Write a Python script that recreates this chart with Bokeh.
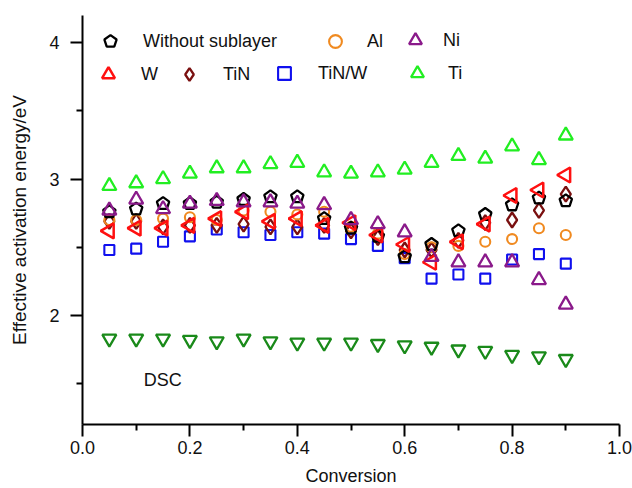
import numpy as np
from bokeh.plotting import figure
from bokeh.models import (FixedTicker, PrintfTickFormatter, Legend, LegendItem,
                          Label, Range1d, ColumnDataSource)
from bokeh.embed import file_html
from bokeh.resources import INLINE

conversion = [0.05, 0.10, 0.15, 0.20, 0.25, 0.30, 0.35, 0.40, 0.45,
              0.50, 0.55, 0.60, 0.65, 0.70, 0.75, 0.80, 0.85, 0.90]
without_sublayer = [2.76, 2.78, 2.82, 2.82, 2.83, 2.85, 2.87, 2.87, 2.71,
                    2.64, 2.58, 2.43, 2.52, 2.62, 2.74, 2.81, 2.86, 2.84]
al = [2.70, 2.70, 2.71, 2.72, 2.70, 2.77, 2.76, 2.74, 2.76,
      2.65, 2.60, 2.45, 2.50, 2.51, 2.54, 2.56, 2.64, 2.59]
ni = [2.77, 2.85, 2.78, 2.82, 2.84, 2.83, 2.83, 2.82, 2.81,
      2.70, 2.67, 2.61, 2.43, 2.39, 2.39, 2.39, 2.26, 2.08]
w = [2.62, 2.64, 2.64, 2.66, 2.71, 2.76, 2.69, 2.71, 2.66,
     2.68, 2.59, 2.52, 2.39, 2.54, 2.67, 2.88, 2.92, 3.03]
tin = [2.69, 2.69, 2.65, 2.66, 2.66, 2.67, 2.65, 2.65, 2.66,
       2.62, 2.57, 2.48, 2.48, 2.55, 2.68, 2.70, 2.77, 2.89]
tin_w = [2.48, 2.49, 2.54, 2.58, 2.63, 2.61, 2.59, 2.61, 2.60,
         2.56, 2.51, 2.42, 2.27, 2.30, 2.27, 2.41, 2.45, 2.38]
ti = [2.95, 2.97, 3.00, 3.04, 3.08, 3.08, 3.11, 3.12, 3.05,
      3.04, 3.05, 3.07, 3.12, 3.17, 3.15, 3.24, 3.14, 3.32]
dsc = [1.83, 1.83, 1.83, 1.82, 1.81, 1.83, 1.81, 1.80, 1.80,
       1.80, 1.79, 1.78, 1.77, 1.75, 1.74, 1.71, 1.70, 1.68]

x_ticks = [0.0, 0.2, 0.4, 0.6, 0.8, 1.0]
x_minor = [0.1, 0.3, 0.5, 0.7, 0.9]
y_ticks = [2, 3, 4]
y_minor = [1.5, 2.5, 3.5]

FONT = "Liberation Sans"
TXT = "#111111"

p = figure(width=632, height=488, output_backend="svg", toolbar_location=None,
           x_range=Range1d(0, 1.0), y_range=Range1d(1.2, 4.2),
           min_border_left=82, min_border_right=13, min_border_top=15,
           min_border_bottom=63)
p.outline_line_color = None
p.xgrid.visible = False
p.ygrid.visible = False

src = ColumnDataSource(dict(x=conversion, ws=without_sublayer, al=al, ni=ni,
                            w=w, tin=tin, tinw=tin_w, ti=ti, dsc=dsc))

r_dsc = p.scatter("x", "dsc", source=src, marker="inverted_triangle", size=14,
                  fill_color=None, line_color="#1a8a1a", line_width=2.3)
r_ti = p.scatter("x", "ti", source=src, marker="triangle", size=14,
                 fill_color=None, line_color="#22ee22", line_width=2.3)
r_tinw = p.scatter("x", "tinw", source=src, marker="square", size=10,
                   fill_color=None, line_color="#1010ee", line_width=2.1)
r_tin = p.scatter("x", "tin", source=src, marker="diamond", size=15,
                  fill_color=None, line_color="#7a1010", line_width=2.3)
r_al = p.scatter("x", "al", source=src, marker="circle", size=10,
                 fill_color=None, line_color="#f08a20", line_width=2.1)
r_ws = p.ngon("x", "ws", source=src, n=5, radius=6.5, radius_units="screen",
              fill_color=None, line_color="black", line_width=2.3)
r_w = p.scatter("x", "w", source=src, marker="triangle", size=15, angle=np.pi / 2,
                fill_color=None, line_color="#ff1010", line_width=2.5)
r_ni = p.scatter("x", "ni", source=src, marker="triangle", size=14,
                 fill_color=None, line_color="#8a1a8a", line_width=2.3)

for ax in (p.xaxis[0], p.yaxis[0]):
    ax.axis_line_color = "black"
    ax.axis_line_width = 2
    ax.major_tick_line_width = 2
    ax.minor_tick_line_width = 2
    ax.major_tick_in = 0
    ax.minor_tick_in = 0
    ax.major_tick_out = 12
    ax.minor_tick_out = 6
    ax.major_label_text_font = FONT
    ax.major_label_text_font_size = "18px"
    ax.major_label_text_color = TXT
    ax.axis_label_text_font = FONT
    ax.axis_label_text_font_style = "normal"
    ax.axis_label_text_color = TXT

p.xaxis.axis_label_text_font_size = "18px"
p.yaxis.axis_label_text_font_size = "19px"
p.xaxis.ticker = FixedTicker(ticks=x_ticks, minor_ticks=x_minor)
p.yaxis.ticker = FixedTicker(ticks=y_ticks, minor_ticks=y_minor)
p.xaxis.formatter = PrintfTickFormatter(format="%.1f")
p.yaxis.formatter = PrintfTickFormatter(format="%d")
p.xaxis.axis_label = "Conversion"
p.yaxis.axis_label = "Effective activation energy/eV"
p.xaxis.major_label_standoff = 4
p.yaxis.major_label_standoff = 11
p.xaxis.axis_label_standoff = 9
p.yaxis.axis_label_standoff = 16

# legend entries: (label, renderer, glyph centre in px, label start in px)
entries = [
    ("Without sublayer", r_ws, (110, 42), 143),
    ("Al", r_al, (335, 42), 367),
    ("Ni", r_ni, (415, 41), 443),
    ("W", r_w, (108, 75), 141),
    ("TiN", r_tin, (189, 75), 223),
    ("TiN/W", r_tinw, (284, 74), 318),
    ("Ti", r_ti, (417, 74), 448),
]
G = 32
for label, rend, (cx, cy), lx in entries:
    lg = Legend(items=[LegendItem(label=label, renderers=[rend])],
                location=(cx - 82 - G // 2, 425 - cy - G // 2), padding=0,
                margin=0, spacing=0, glyph_width=G, glyph_height=G,
                label_height=G, label_standoff=lx - cx - G // 2,
                border_line_color=None, background_fill_alpha=0,
                label_text_font=FONT, label_text_font_size="18px",
                label_text_color=TXT)
    p.add_layout(lg, "center")

p.add_layout(Label(x=0.114, y=1.526, text="DSC", text_font=FONT,
                   text_font_size="18px", text_baseline="middle",
                   text_color=TXT))

open("out.html", "w").write(file_html(p, INLINE))
